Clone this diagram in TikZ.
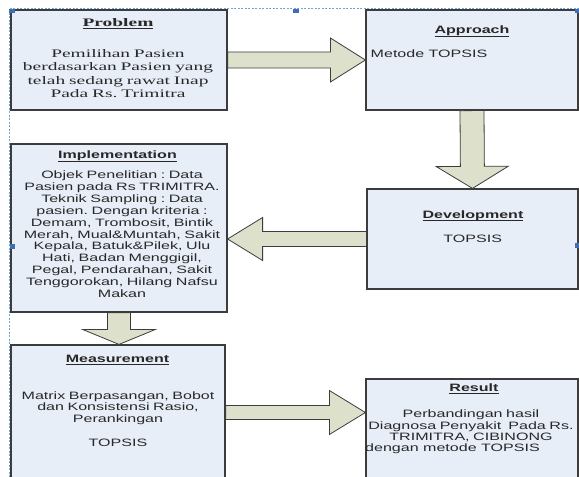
\documentclass[tikz,border=0pt]{standalone}
\usepackage{fontspec}
\usetikzlibrary{calc}
\newfontfamily\serifW[FakeStretch=1.69]{Liberation Serif}
\newfontfamily\sansW[FakeStretch=1.5]{Liberation Sans}
\frenchspacing
\definecolor{boxfill}{RGB}{232,238,248}
\definecolor{arrfill}{RGB}{221,225,204}
\definecolor{edgec}{RGB}{60,60,60}
\definecolor{txtc}{RGB}{40,40,40}
\definecolor{selblue}{RGB}{110,165,220}
\definecolor{handlec}{RGB}{63,111,176}
\newcommand\ulx[1]{\setbox0\hbox{#1}\rlap{\rule[-2.4bp]{\wd0}{0.8bp}}\box0}
\tikzset{
  box/.style={draw=edgec, line width=1.2bp, fill=boxfill, inner sep=0pt, rectangle},
  bsw/.store in=\bsw, bhw/.store in=\bhw, bhl/.store in=\bhl,
  bsw=8bp, bhw=22bp, bhl=35bp,
  blockarrow/.style={draw=edgec, line width=0.8bp, fill=arrfill, line join=miter,
    to path={
      ($(\tikztostart)!\bsw!90:(\tikztotarget)$) --
      ($($(\tikztotarget)!\bhl!(\tikztostart)$)!\bsw!90:(\tikztotarget)$) --
      ($($(\tikztotarget)!\bhl!(\tikztostart)$)!\bhw!90:(\tikztotarget)$) --
      (\tikztotarget) --
      ($($(\tikztotarget)!\bhl!(\tikztostart)$)!\bhw!-90:(\tikztotarget)$) --
      ($($(\tikztotarget)!\bhl!(\tikztostart)$)!\bsw!-90:(\tikztotarget)$) --
      ($(\tikztostart)!\bsw!-90:(\tikztotarget)$) -- cycle}},
  serift/.style={anchor=base, inner sep=0pt, text=txtc, font=\serifW\bfseries\fontsize{11.5bp}{13.3bp}\selectfont},
  serifb/.style={anchor=base, inner sep=0pt, text=txtc, align=center, text width=214bp, font=\serifW\fontsize{11.5bp}{13.3bp}\selectfont},
  sanst/.style={anchor=base, inner sep=0pt, text=txtc, font=\sansW\bfseries\fontsize{10.7bp}{11.8bp}\selectfont},
  sansb/.style={anchor=base, inner sep=0pt, text=txtc, align=center, text width=#1, font=\sansW\fontsize{10.7bp}{11.8bp}\selectfont},
  sansb/.default=214bp,
  sansl/.style={anchor=base west, inner sep=0pt, text=txtc, font=\sansW\fontsize{10.7bp}{11.8bp}\selectfont},
}
\begin{document}
\begin{tikzpicture}[x=1bp, y=-1bp]
\useasboundingbox (0,0) rectangle (579,477);
\clip (0,0) rectangle (579,477);
\fill[white] (0,0) rectangle (579,477);

% selection frame
\draw[selblue, line width=0.8bp, dash pattern=on 2bp off 1.5bp] (579,8.5) -- (9.5,8.5) -- (9.5,477);

% boxes
\node[box, minimum width=216bp, minimum height=100bp] (prob) at (119,60) {};
\node[box, minimum width=212bp, minimum height=100bp] (appr) at (472,60) {};
\node[box, minimum width=211bp, minimum height=100bp] (dev) at (472.5,239) {};
\node[box, minimum width=216bp, minimum height=168bp] (impl) at (119,228) {};
\node[box, minimum width=214bp, minimum height=135bp] (meas) at (118,412.5) {};
\node[box, minimum width=212bp, minimum height=101bp] (res) at (472,429.5) {};

% arrow end points
\coordinate (t3) at (impl.east |- dev.west);
\coordinate (t4) at (impl.south |- meas.north);
\coordinate (t5) at (res.west |- meas.east);

% block arrows
\draw[blockarrow, bsw=8bp, bhw=22bp, bhl=35bp] (prob.east) to (appr.west);
\draw[blockarrow, bsw=12bp, bhw=36bp, bhl=22bp] (appr.south) to (dev.north);
\draw[blockarrow, bsw=7.5bp, bhw=21.5bp, bhl=35bp] (dev.west) to (t3);
\draw[blockarrow, bsw=11.5bp, bhw=36.5bp, bhl=15bp] (impl.south) to (t4);
\draw[blockarrow, bsw=7bp, bhw=22bp, bhl=36bp] (meas.east) to (t5);

% texts
\node[serift] (probT) at (118,26.5) {\ulx{Problem}};
\node[serifb] (probB) at (118,57.5) {Pemilihan Pasien\\berdasarkan Pasien yang\\telah sedang rawat Inap\\Pada Rs. Trimitra};

\node[sanst] (apprT) at (472,34) {\ulx{Approach}};
\node[sansl] (apprB) at (370.5,58) {Metode TOPSIS};

\node[sanst] (devT) at (473,218.5) {\ulx{Development}};
\node[sansb] (devB) at (472.7,242.7) {TOPSIS};

\node[sanst] (implT) at (117.5,159) {\ulx{Implementation}};
\node[sansb] (implB) at (122,179) {Objek Penelitian : Data\\Pasien pada Rs TRIMITRA.\\Teknik Sampling : Data\\pasien. Dengan kriteria :\\Demam, Trombosit, Bintik\\Merah, Mual\&Muntah, Sakit\\Kepala, Batuk\&Pilek, Ulu\\Hati, Badan Menggigil,\\Pegal, Pendarahan, Sakit\\Tenggorokan, Hilang Nafsu\\Makan};

\node[sanst] (measT) at (117.5,362.7) {\ulx{Measurement}};
\node[sansb] (measB) at (118,399) {Matrix Berpasangan, Bobot\\dan Konsistensi Rasio,\\Perankingan\\\mbox{}\\TOPSIS};

\node[sanst] (resT) at (474,391.5) {\ulx{Result}};
\node[sansb=240bp, font=\sansW\fontsize{10.7bp}{11.4bp}\selectfont] (resB) at (471,417.7) {Perbandingan hasil\\Diagnosa Penyakit~ Pada Rs.\\TRIMITRA, CIBINONG};
\node[sansl] (resC) at (365,451.7) {dengan metode TOPSIS};

% selection handles
\fill[handlec] (9,9) rectangle (14.5,13.5);
\fill[handlec] (293,9) rectangle (298.5,13.5);
\fill[handlec] (574.5,9) rectangle (579,13.5);
\fill[handlec] (9.5,243.5) rectangle (15,248.5);
\fill[handlec] (575,242.5) rectangle (579,247.5);
\end{tikzpicture}
\end{document}
